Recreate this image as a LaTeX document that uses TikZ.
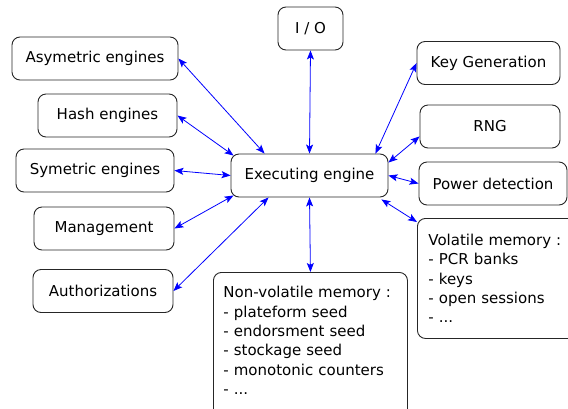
\documentclass[tikz,border=0pt]{standalone}
\usepackage{fontspec}
\setmainfont{DejaVu Sans}
\usetikzlibrary{calc,arrows.meta}
\definecolor{linkblue}{RGB}{0,0,255}
\begin{document}
\begin{tikzpicture}[x=1pt,y=-1pt,
  every node/.style={font=\fontsize{15}{19.4}\selectfont},
  box/.style={draw=black!85, line width=0.9pt, rounded corners=8pt, inner sep=0pt, minimum height=43pt},
  memo/.style={draw=black!85, line width=0.9pt, rounded corners=8pt, inner xsep=10pt, inner ysep=0pt, align=left, anchor=north west},
  link/.style={draw=linkblue, line width=0.8pt, {Stealth[length=9pt,width=7pt,inset=2pt]}-{Stealth[length=9pt,width=7pt,inset=2pt]}}
]
\useasboundingbox (0,0) rectangle (568,408);
\node[box, minimum width=65pt]  (io)     at (310.5,28.5) {I / O};
\node[box, minimum width=166pt] (asym)   at (95,58.5)    {Asymetric engines};
\node[box, minimum width=139pt] (hash)   at (107.5,115.5){Hash engines};
\node[box, minimum width=158pt] (sym)    at (95,170.5)   {Symetric engines};
\node[box, minimum width=140pt] (mgmt)   at (104,228.5)  {Management};
\node[box, minimum width=140pt] (auth)   at (103,291)    {Authorizations};
\node[box, minimum width=157pt] (exec)   at (309.5,175.5){Executing engine};
\node[box, minimum width=143pt] (keygen) at (488.5,63)   {Key Generation};
\node[box, minimum width=140pt] (rng)    at (490,126.5)  {RNG};
\node[box, minimum width=148pt] (power)  at (493,183.5)  {Power detection};
\node[memo, minimum width=180pt, minimum height=120pt, text width=158pt] (vol) at (417,218)
  {Volatile memory :\\- PCR banks\\- keys\\- open sessions\\- ...};
\node[memo, minimum width=194pt, minimum height=146pt, text width=174pt] (nvol) at (213,272)
  {Non-volatile memory :\\- plateform seed\\- endorsment seed\\- stockage seed\\- monotonic counters\\- ...\\[-9.4pt]\mbox{}};
\draw[link] (asym.east) -- ($(exec.north west)+(34,0)$);
\draw[link] (hash.east) -- ($(exec.north west)+(3,2)$);
\draw[link] (sym.east) -- (exec.west);
\draw[link] (mgmt.east) -- ($(exec.south west)+(3,-2)$);
\draw[link] (auth.east) -- ($(exec.south west)+(38,0)$);
\draw[link] (io.south) -- (exec.north);
\draw[link] (keygen.west) -- ($(exec.north east)+(-13,0)$);
\draw[link] ($(rng.south west)+(0,-12)$) -- ($(exec.north east)+(0,9)$);
\draw[link] (exec.east) -- (power.west);
\draw[link] ($(exec.south east)+(-7,2)$) -- ($(vol.north west)+(0,4)$);
\draw[link] (exec.south) -- (nvol.north);
\end{tikzpicture}
\end{document}
